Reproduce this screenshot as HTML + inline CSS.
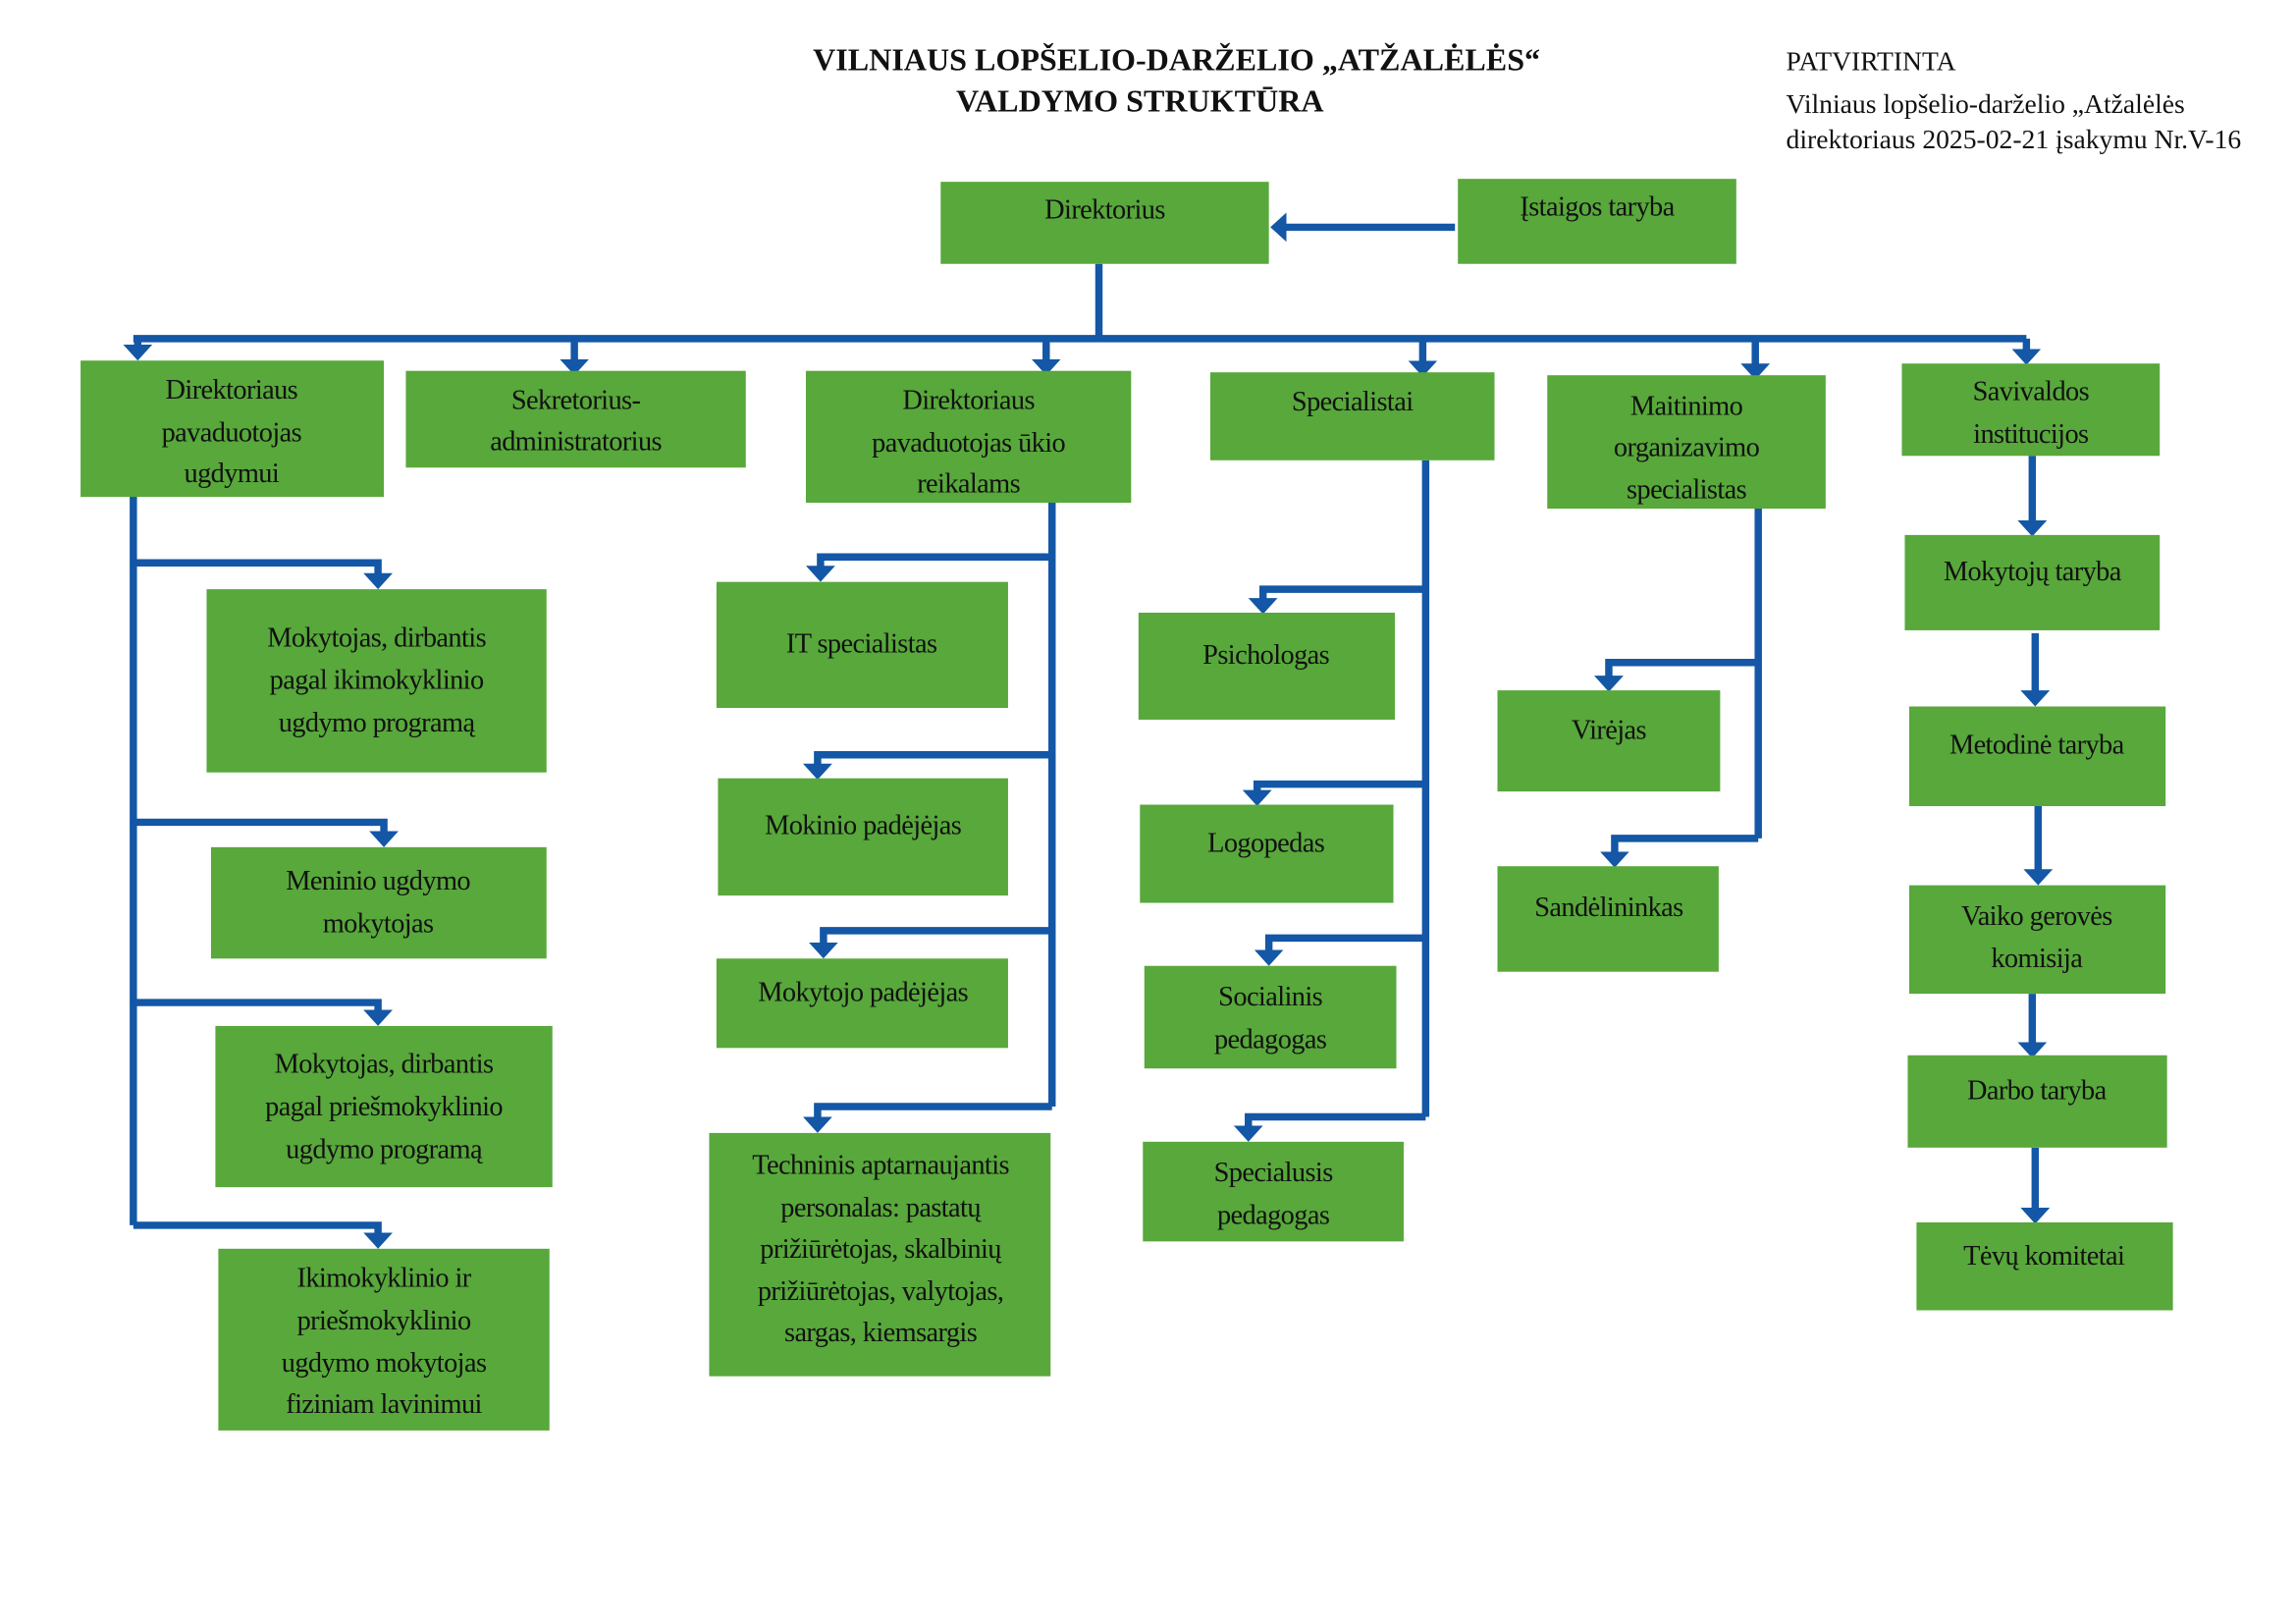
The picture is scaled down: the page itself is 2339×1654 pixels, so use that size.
<!DOCTYPE html>
<html><head><meta charset="utf-8"><style>
html,body{margin:0;padding:0;background:#fff;}
svg{display:block}
.b{fill:#58a83b}
.t{font-family:"Liberation Serif","DejaVu Serif",serif;font-size:19px;fill:#111;text-anchor:middle;letter-spacing:-0.4px}
.c{fill:none;stroke:#1357a6;stroke-width:5;stroke-linejoin:miter}
</style></head><body>
<svg width="2339" height="1654" viewBox="0 0 1567 1108" xmlns="http://www.w3.org/2000/svg">
<defs>
<marker id="a" markerWidth="4" markerHeight="4" refX="1" refY="2" orient="auto" markerUnits="strokeWidth">
<path d="M0,0 L2.2,2 L0,4 Z" fill="#1357a6"/>
</marker>
</defs>
<g font-family="Liberation Serif, serif" fill="#111">
<text x="803" y="48" font-size="21.5" font-weight="bold" text-anchor="middle">VILNIAUS LOPŠELIO-DARŽELIO „ATŽALĖLĖS“</text>
<text x="778" y="76" font-size="21.5" font-weight="bold" text-anchor="middle">VALDYMO STRUKTŪRA</text>
<text x="1219" y="48" font-size="18.5">PATVIRTINTA</text>
<text x="1219" y="77" font-size="18.5">Vilniaus lopšelio-darželio „Atžalėlės</text>
<text x="1219" y="101" font-size="18.5">direktoriaus 2025-02-21 įsakymu Nr.V-16</text>
</g>

<g class="c">
<path d="M750,180 V231"/>
<path d="M91,231 H1383"/>
<path d="M94,231 V240" marker-end="url(#a)"/>
<path d="M392,231 V250" marker-end="url(#a)"/>
<path d="M714,231 V250" marker-end="url(#a)"/>
<path d="M971,231 V251" marker-end="url(#a)"/>
<path d="M1198,231 V253" marker-end="url(#a)"/>
<path d="M1383,231 V243" marker-end="url(#a)"/>
<path d="M993,155 H873" marker-end="url(#a)"/>
<path d="M91,335 V836"/>
<path d="M91,384 H258 V396" marker-end="url(#a)"/>
<path d="M91,561 H262 V572" marker-end="url(#a)"/>
<path d="M91,684 H258 V694" marker-end="url(#a)"/>
<path d="M91,836 H258 V846" marker-end="url(#a)"/>
<path d="M718,343 V755"/>
<path d="M718,380 H560 V391" marker-end="url(#a)"/>
<path d="M718,515 H558 V526" marker-end="url(#a)"/>
<path d="M718,635 H562 V648" marker-end="url(#a)"/>
<path d="M718,755 H558 V767" marker-end="url(#a)"/>
<path d="M973,314 V762"/>
<path d="M973,402 H862 V413" marker-end="url(#a)"/>
<path d="M973,535 H858 V544" marker-end="url(#a)"/>
<path d="M973,640 H866 V653" marker-end="url(#a)"/>
<path d="M973,762 H852 V773" marker-end="url(#a)"/>
<path d="M1200,347 V572"/>
<path d="M1200,452 H1098 V466" marker-end="url(#a)"/>
<path d="M1200,572 H1102 V586" marker-end="url(#a)"/>
<path d="M1387,311 V360" marker-end="url(#a)"/>
<path d="M1389,432 V476" marker-end="url(#a)"/>
<path d="M1391,550 V598" marker-end="url(#a)"/>
<path d="M1387,678 V716" marker-end="url(#a)"/>
<path d="M1389,783 V829" marker-end="url(#a)"/>
</g>

<g>
<rect class="b" x="642" y="124" width="224" height="56"/>
<rect class="b" x="995" y="122" width="190" height="58"/>
<rect class="b" x="55" y="246" width="207" height="93"/>
<rect class="b" x="277" y="253" width="232" height="66"/>
<rect class="b" x="550" y="253" width="222" height="90"/>
<rect class="b" x="826" y="254" width="194" height="60"/>
<rect class="b" x="1056" y="256" width="190" height="91"/>
<rect class="b" x="1298" y="248" width="176" height="63"/>
<rect class="b" x="141" y="402" width="232" height="125"/>
<rect class="b" x="144" y="578" width="229" height="76"/>
<rect class="b" x="147" y="700" width="230" height="110"/>
<rect class="b" x="149" y="852" width="226" height="124"/>
<rect class="b" x="489" y="397" width="199" height="86"/>
<rect class="b" x="490" y="531" width="198" height="80"/>
<rect class="b" x="489" y="654" width="199" height="61"/>
<rect class="b" x="484" y="773" width="233" height="166"/>
<rect class="b" x="777" y="418" width="175" height="73"/>
<rect class="b" x="778" y="549" width="173" height="67"/>
<rect class="b" x="781" y="659" width="172" height="70"/>
<rect class="b" x="780" y="779" width="178" height="68"/>
<rect class="b" x="1022" y="471" width="152" height="69"/>
<rect class="b" x="1022" y="591" width="151" height="72"/>
<rect class="b" x="1300" y="365" width="174" height="65"/>
<rect class="b" x="1303" y="482" width="175" height="68"/>
<rect class="b" x="1303" y="604" width="175" height="74"/>
<rect class="b" x="1302" y="720" width="177" height="63"/>
<rect class="b" x="1308" y="834" width="175" height="60"/>
</g>

<g class="t" font-family="Liberation Serif, serif">
<text x="754" y="149">Direktorius</text>
<text x="1090" y="147">Įstaigos taryba</text>
<text x="158" y="272">Direktoriaus</text><text x="158" y="301">pavaduotojas</text><text x="158" y="329">ugdymui</text>
<text x="393" y="279">Sekretorius-</text><text x="393" y="307">administratorius</text>
<text x="661" y="279">Direktoriaus</text><text x="661" y="308">pavaduotojas ūkio</text><text x="661" y="336">reikalams</text>
<text x="923" y="280">Specialistai</text>
<text x="1151" y="283">Maitinimo</text><text x="1151" y="311">organizavimo</text><text x="1151" y="340">specialistas</text>
<text x="1386" y="273">Savivaldos</text><text x="1386" y="302">institucijos</text>
<text x="257" y="441">Mokytojas, dirbantis</text><text x="257" y="470">pagal ikimokyklinio</text><text x="257" y="499">ugdymo programą</text>
<text x="258" y="607">Meninio ugdymo</text><text x="258" y="636">mokytojas</text>
<text x="262" y="732">Mokytojas, dirbantis</text><text x="262" y="761">pagal priešmokyklinio</text><text x="262" y="790">ugdymo programą</text>
<text x="262" y="878">Ikimokyklinio ir</text><text x="262" y="907">priešmokyklinio</text><text x="262" y="936">ugdymo mokytojas</text><text x="262" y="964">fiziniam lavinimui</text>
<text x="588" y="445">IT specialistas</text>
<text x="589" y="569">Mokinio padėjėjas</text>
<text x="589" y="683">Mokytojo padėjėjas</text>
<text x="601" y="801">Techninis aptarnaujantis</text><text x="601" y="830">personalas: pastatų</text><text x="601" y="858">prižiūrėtojas, skalbinių</text><text x="601" y="887">prižiūrėtojas, valytojas,</text><text x="601" y="915">sargas, kiemsargis</text>
<text x="864" y="453">Psichologas</text>
<text x="864" y="581">Logopedas</text>
<text x="867" y="686">Socialinis</text><text x="867" y="715">pedagogas</text>
<text x="869" y="806">Specialusis</text><text x="869" y="835">pedagogas</text>
<text x="1098" y="504">Virėjas</text>
<text x="1098" y="625">Sandėlininkas</text>
<text x="1387" y="396">Mokytojų taryba</text>
<text x="1390" y="514">Metodinė taryba</text>
<text x="1390" y="631">Vaiko gerovės</text><text x="1390" y="660">komisija</text>
<text x="1390" y="750">Darbo taryba</text>
<text x="1395" y="863">Tėvų komitetai</text>
</g>
</svg>
</body></html>
